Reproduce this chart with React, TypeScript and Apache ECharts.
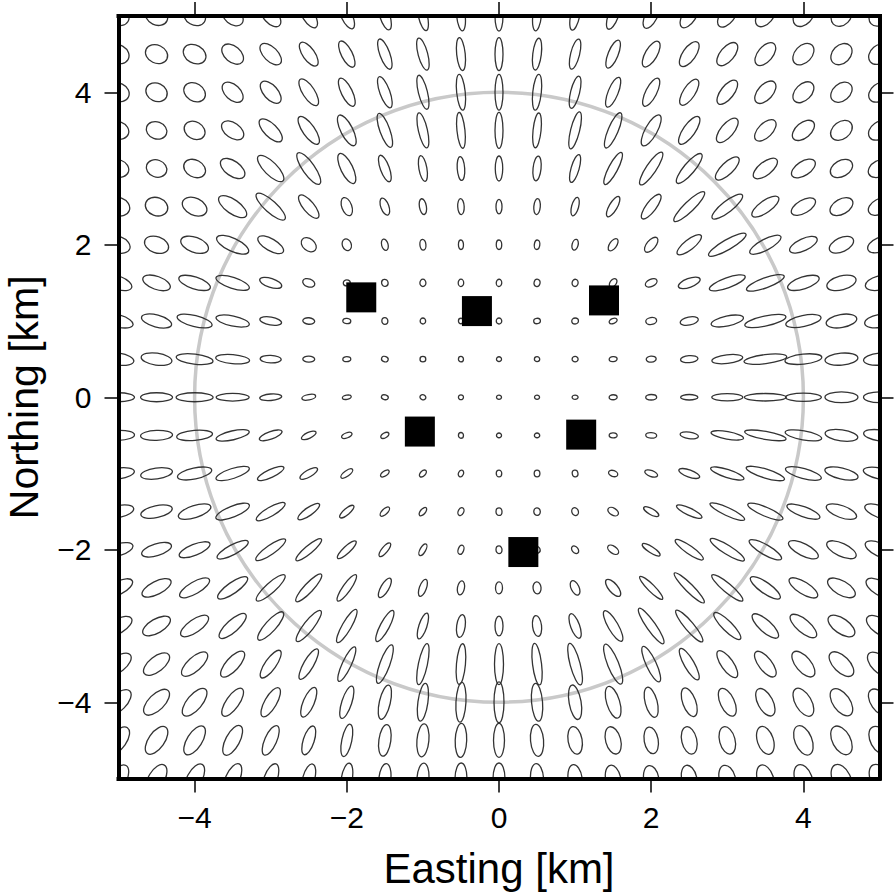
import React, { useEffect, useRef } from "react";
import * as echarts from "echarts";

// Grid nodes (km)
const EASTING_KM = [-5, -4.5, -4, -3.5, -3, -2.5, -2, -1.5, -1, -0.5, 0, 0.5, 1, 1.5, 2, 2.5, 3, 3.5, 4, 4.5, 5];
const NORTHING_KM = [5, 4.5, 4, 3.5, 3, 2.5, 2, 1.5, 1, 0.5, 0, -0.5, -1, -1.5, -2, -2.5, -3, -3.5, -4, -4.5, -5];

// Error ellipse full major axis (m), rows = northing (top to bottom), cols = easting (west to east)
const MAJOR_AXIS_M = [
  [289, 302, 302, 315, 341, 354, 367, 380, 394, 394, 394, 394, 380, 367, 354, 354, 341, 328, 315, 302, 302],
  [289, 302, 315, 328, 354, 367, 380, 420, 433, 433, 433, 420, 407, 394, 380, 380, 367, 354, 328, 315, 315],
  [289, 289, 302, 328, 354, 407, 407, 433, 459, 472, 472, 472, 433, 420, 407, 394, 380, 354, 328, 315, 315],
  [276, 276, 289, 328, 394, 433, 446, 472, 472, 472, 472, 459, 499, 499, 459, 433, 394, 354, 341, 315, 315],
  [276, 276, 302, 367, 459, 499, 433, 367, 341, 315, 328, 328, 380, 472, 512, 499, 407, 380, 354, 315, 315],
  [302, 302, 341, 433, 499, 380, 249, 236, 210, 210, 190, 210, 249, 302, 394, 551, 499, 420, 354, 328, 315],
  [315, 328, 380, 459, 380, 223, 157, 151, 144, 125, 125, 125, 144, 184, 236, 394, 564, 459, 394, 341, 328],
  [367, 380, 433, 459, 302, 164, 92, 92, 96, 96, 96, 98, 96, 125, 164, 302, 499, 525, 433, 394, 380],
  [394, 407, 472, 446, 289, 157, 105, 88, 79, 72, 79, 88, 88, 109, 144, 243, 433, 551, 472, 407, 394],
  [407, 407, 486, 446, 276, 157, 105, 89, 76, 72, 66, 70, 79, 105, 131, 230, 407, 564, 486, 433, 420],
  [420, 420, 486, 433, 289, 184, 118, 92, 79, 66, 66, 66, 79, 105, 144, 227, 407, 551, 472, 433, 420],
  [420, 420, 472, 446, 315, 210, 144, 118, 92, 75, 66, 70, 79, 105, 144, 243, 433, 551, 486, 433, 420],
  [420, 420, 459, 459, 380, 262, 184, 131, 112, 92, 88, 88, 88, 125, 177, 289, 459, 525, 486, 446, 433],
  [407, 420, 446, 472, 433, 341, 236, 157, 131, 109, 101, 101, 105, 151, 223, 367, 499, 499, 459, 420, 407],
  [394, 407, 433, 459, 472, 433, 328, 223, 171, 125, 101, 92, 112, 164, 276, 446, 525, 486, 433, 420, 407],
  [407, 420, 446, 472, 499, 486, 420, 289, 236, 184, 157, 157, 203, 276, 420, 551, 525, 472, 433, 407, 394],
  [394, 407, 433, 459, 486, 512, 499, 459, 354, 302, 262, 276, 341, 459, 564, 538, 486, 446, 433, 407, 394],
  [394, 407, 433, 433, 433, 459, 499, 538, 551, 538, 538, 551, 564, 564, 512, 472, 420, 407, 407, 407, 394],
  [420, 433, 446, 433, 433, 420, 446, 459, 499, 525, 538, 499, 459, 433, 407, 394, 394, 394, 407, 407, 394],
  [407, 420, 433, 433, 420, 394, 433, 420, 433, 446, 446, 420, 367, 367, 354, 367, 367, 380, 407, 407, 394],
  [394, 407, 420, 420, 407, 394, 407, 394, 407, 407, 407, 394, 367, 354, 341, 354, 354, 367, 380, 394, 394],
];

// Error ellipse full minor axis (m)
const MINOR_AXIS_M = [
  [236, 236, 236, 210, 184, 157, 144, 131, 118, 112, 105, 112, 118, 131, 157, 171, 184, 197, 223, 236, 236],
  [236, 236, 236, 210, 184, 157, 144, 131, 125, 112, 105, 112, 118, 131, 157, 171, 184, 197, 223, 236, 236],
  [236, 236, 230, 197, 184, 157, 144, 131, 118, 112, 105, 112, 118, 131, 144, 157, 171, 197, 210, 223, 223],
  [223, 223, 223, 197, 171, 157, 157, 131, 118, 105, 105, 105, 118, 131, 157, 157, 171, 184, 197, 223, 223],
  [223, 223, 223, 197, 171, 157, 157, 118, 105, 98, 98, 105, 105, 118, 131, 144, 157, 171, 184, 210, 210],
  [236, 236, 223, 184, 157, 144, 131, 105, 92, 85, 79, 85, 92, 105, 131, 131, 144, 157, 171, 197, 197],
  [210, 210, 197, 171, 157, 157, 118, 85, 79, 66, 72, 72, 79, 92, 118, 131, 131, 144, 157, 184, 184],
  [171, 171, 157, 144, 118, 105, 79, 85, 79, 72, 72, 79, 79, 79, 92, 118, 131, 131, 157, 184, 184],
  [157, 157, 144, 131, 105, 85, 70, 79, 72, 66, 72, 70, 79, 66, 92, 105, 131, 131, 144, 171, 171],
  [157, 157, 131, 118, 98, 79, 66, 72, 70, 66, 62, 63, 72, 66, 79, 92, 112, 118, 131, 157, 157],
  [118, 118, 118, 101, 85, 72, 56, 63, 66, 62, 56, 56, 56, 66, 72, 72, 96, 98, 109, 140, 140],
  [131, 131, 131, 118, 98, 79, 66, 66, 66, 66, 62, 62, 66, 66, 72, 85, 98, 105, 118, 144, 144],
  [144, 144, 144, 131, 105, 92, 72, 66, 66, 66, 72, 75, 75, 79, 79, 92, 105, 118, 131, 144, 144],
  [157, 157, 157, 144, 118, 105, 79, 72, 66, 72, 79, 85, 85, 92, 79, 92, 105, 118, 131, 157, 157],
  [157, 157, 144, 131, 118, 105, 92, 79, 72, 72, 79, 79, 79, 92, 79, 105, 118, 131, 157, 171, 171],
  [171, 171, 157, 144, 131, 118, 105, 105, 92, 92, 92, 105, 105, 118, 92, 105, 118, 144, 157, 184, 184],
  [184, 184, 171, 157, 144, 131, 118, 118, 105, 112, 105, 118, 118, 131, 118, 118, 131, 157, 171, 197, 197],
  [197, 197, 184, 171, 144, 131, 118, 131, 118, 118, 118, 118, 131, 144, 131, 131, 157, 171, 197, 210, 210],
  [210, 210, 197, 171, 157, 144, 131, 144, 131, 131, 131, 144, 157, 171, 157, 171, 184, 197, 210, 223, 223],
  [210, 210, 197, 184, 157, 144, 131, 157, 157, 151, 144, 171, 184, 197, 184, 197, 203, 210, 223, 236, 236],
  [210, 210, 197, 184, 171, 157, 144, 157, 157, 157, 157, 171, 184, 197, 197, 197, 210, 210, 223, 236, 236],
];

// Orientation of the major axis, degrees counter-clockwise from east
const ORIENTATION_DEG = [
  [150, 155, 150, 140, 132, 122, 115, 108, 103, 96, 90, 84, 78, 70, 63, 57, 52, 50, 47, 45, 42],
  [150, 155, 150, 140, 135, 125, 117, 110, 105, 96, 90, 83, 76, 68, 60, 55, 50, 50, 47, 45, 40],
  [155, 155, 148, 137, 132, 123, 116, 110, 104, 96, 90, 84, 76, 68, 63, 57, 52, 48, 45, 40, 38],
  [160, 160, 150, 145, 135, 125, 117, 110, 103, 96, 90, 84, 76, 67, 61, 55, 50, 45, 40, 37, 35],
  [160, 160, 152, 145, 135, 125, 116, 110, 100, 94, 90, 84, 74, 62, 56, 50, 44, 38, 33, 30, 28],
  [160, 160, 155, 145, 138, 130, 110, 110, 100, 93, 90, 85, 75, 60, 53, 44, 38, 35, 30, 30, 28],
  [160, 160, 160, 155, 150, 140, 110, 105, 95, 90, 90, 82, 75, 55, 50, 38, 30, 28, 25, 25, 23],
  [160, 160, 162, 162, 162, 160, 0, 100, 90, 90, 85, 75, 80, 50, 25, 20, 20, 20, 18, 15, 14],
  [165, 165, 166, 168, 170, 175, 175, 90, 90, 90, 90, 10, 0, 20, 10, 12, 12, 12, 12, 10, 10],
  [172, 172, 173, 175, 178, 178, 0, 160, 0, 90, 0, 0, 0, 5, 5, 5, 7, 7, 6, 5, 5],
  [0, 0, 0, 0, 5, 10, 10, 165, 160, 0, 0, 0, 0, 0, 0, 0, 0, 0, 0, 0, 0],
  [2, 2, 5, 13, 20, 25, 20, 30, 40, 90, 0, 0, 0, 175, 175, 172, 170, 170, 170, 172, 172],
  [8, 8, 12, 18, 25, 30, 35, 35, 45, 65, 90, 90, 100, 160, 160, 160, 162, 163, 165, 167, 168],
  [12, 12, 18, 22, 30, 35, 40, 45, 50, 65, 90, 95, 110, 150, 150, 155, 155, 157, 160, 160, 160],
  [17, 17, 22, 28, 35, 40, 43, 50, 60, 70, 90, 110, 130, 145, 147, 145, 148, 150, 153, 155, 155],
  [27, 27, 30, 35, 42, 47, 55, 60, 70, 80, 90, 95, 115, 130, 135, 135, 140, 145, 148, 150, 150],
  [30, 30, 35, 42, 48, 52, 60, 62, 72, 82, 90, 97, 110, 120, 125, 130, 135, 138, 140, 145, 145],
  [38, 38, 42, 48, 55, 60, 65, 70, 78, 85, 90, 97, 105, 112, 115, 120, 125, 128, 130, 135, 135],
  [45, 45, 50, 55, 60, 67, 72, 77, 82, 87, 90, 95, 100, 107, 105, 110, 115, 118, 120, 125, 125],
  [55, 55, 58, 62, 66, 72, 78, 82, 85, 88, 90, 95, 100, 105, 100, 103, 105, 108, 112, 118, 118],
  [60, 60, 62, 66, 70, 75, 80, 84, 86, 89, 90, 94, 98, 102, 100, 103, 105, 108, 110, 115, 115],
];

// Stations
const STATION_EASTING_KM = [-1.81, -0.29, 1.38, -1.04, 1.08, 0.32];
const STATION_NORTHING_KM = [1.31, 1.13, 1.27, -0.45, -0.49, -2.03];

// Reference circle
const RING_CENTER_KM = [0, 0];
const RING_RADIUS_KM = 4;

// Axes
const AXIS_MIN_KM = -5;
const AXIS_MAX_KM = 5;
const TICK_VALUES_KM = [-4, -2, 0, 2, 4];

const FONT = '"Liberation Sans", Arial, Helvetica, sans-serif';

export default function App() {
  const ref = useRef<HTMLDivElement>(null);

  useEffect(() => {
    if (!ref.current) return;
    const chart = echarts.init(ref.current, undefined, { renderer: "svg" });

    const ellipseData: number[][] = [];
    NORTHING_KM.forEach((n, i) => {
      EASTING_KM.forEach((e, j) => {
        ellipseData.push([
          e,
          n,
          (MAJOR_AXIS_M[i]?.[j] ?? 0) / 1000,
          (MINOR_AXIS_M[i]?.[j] ?? 0) / 1000,
          ORIENTATION_DEG[i]?.[j] ?? 0,
        ]);
      });
    });

    const stationData = STATION_EASTING_KM.map((e, i) => [e, STATION_NORTHING_KM[i]]);

    const fmt = (v: number) => (v < 0 ? "\u2212" + Math.abs(v) : String(v));
    const lineStyle = { color: "#000", width: 4, cap: "square" as const };
    const tickStyle = { color: "#000", width: 1.5 };

    const axisBase = {
      type: "value" as const,
      min: AXIS_MIN_KM,
      max: AXIS_MAX_KM,
      z: 10,
      splitLine: { show: false },
      axisLine: { show: true, onZero: false, lineStyle },
      axisTick: { show: true, inside: false, length: 14, lineStyle: tickStyle, customValues: TICK_VALUES_KM },
    };

    const option: any = {
      animation: false,
      backgroundColor: "#fff",
      grid: {
        left: 118.5,
        top: 16,
        width: 761,
        height: 762.5,
        containLabel: false,
        outerBoundsMode: "none",
      },
      xAxis: [
        {
          ...axisBase,
          position: "bottom",
          name: "Easting [km]",
          nameLocation: "middle",
          nameGap: 69,
          nameTextStyle: { fontSize: 42, color: "#000", fontFamily: FONT },
          axisLabel: {
            show: true,
            customValues: TICK_VALUES_KM,
            formatter: fmt,
            fontSize: 30,
            color: "#000",
            fontFamily: FONT,
            margin: 24,
          },
        },
        {
          ...axisBase,
          position: "top",
          axisLabel: { show: false },
        },
      ],
      yAxis: [
        {
          ...axisBase,
          position: "left",
          name: "Northing [km]",
          nameLocation: "middle",
          nameGap: 74,
          nameTextStyle: { fontSize: 41, color: "#000", fontFamily: FONT },
          axisLabel: {
            show: true,
            customValues: TICK_VALUES_KM,
            formatter: fmt,
            fontSize: 30,
            color: "#000",
            fontFamily: FONT,
            margin: 27,
          },
        },
        {
          ...axisBase,
          position: "right",
          axisLabel: { show: false },
        },
      ],
      series: [
        {
          type: "custom",
          name: "ring",
          z: 1,
          silent: true,
          clip: true,
          encode: { x: 0, y: 1 },
          data: [[RING_CENTER_KM[0], RING_CENTER_KM[1], RING_RADIUS_KM]],
          renderItem: (_p: any, api: any) => {
            const c = api.coord([api.value(0), api.value(1)]);
            const s = api.size([api.value(2), api.value(2)]);
            return {
              type: "ellipse",
              shape: { cx: c[0], cy: c[1], rx: s[0], ry: s[1] },
              style: { fill: "none", stroke: "#c9c9c9", lineWidth: 3.5 },
            };
          },
        },
        {
          type: "custom",
          name: "ellipses",
          z: 2,
          silent: true,
          clip: true,
          encode: { x: 0, y: 1 },
          data: ellipseData,
          renderItem: (_p: any, api: any) => {
            const c = api.coord([api.value(0), api.value(1)]);
            const s = api.size([api.value(2), api.value(3)]);
            return {
              type: "ellipse",
              x: c[0],
              y: c[1],
              rotation: (api.value(4) * Math.PI) / 180,
              shape: { cx: 0, cy: 0, rx: s[0] / 2, ry: s[1] / 2 },
              style: { fill: "none", stroke: "#333", lineWidth: 1.3 },
            };
          },
        },
        {
          type: "scatter",
          name: "stations",
          z: 3,
          silent: true,
          symbol: "rect",
          symbolSize: 30,
          itemStyle: { color: "#000", opacity: 1 },
          data: stationData,
        },
      ],
    };

    chart.setOption(option);
    return () => chart.dispose();
  }, []);

  return (
    <div
      ref={ref}
      style={{ position: "fixed", left: 0, top: 0, width: 894, height: 893, background: "#fff" }}
    />
  );
}
